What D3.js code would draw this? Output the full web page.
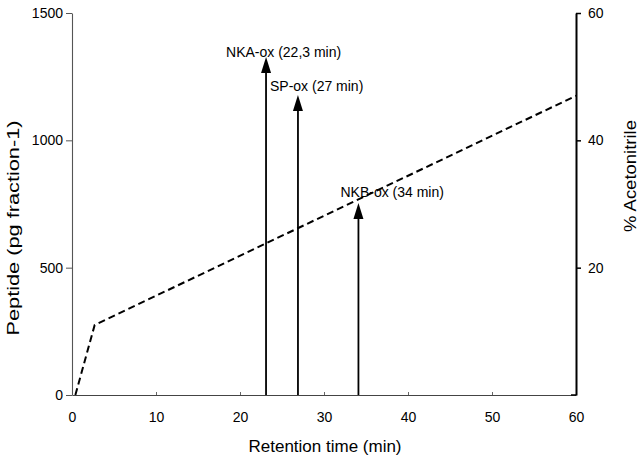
<!DOCTYPE html>
<html>
<head>
<meta charset="utf-8">
<script src="https://cdn.jsdelivr.net/npm/d3@7"></script>
<style>
  body { margin: 0; background: #fff; }
  svg text { font-family: "Liberation Sans", Arial, sans-serif; fill: #000; }
</style>
</head>
<body>
<svg id="chart" width="640" height="459"></svg>
<script>
// retention time (min) vs % acetonitrile gradient
var gradientTime = [0.4, 2.7, 60];
var gradientPct = [0, 11, 47];

// peptide peaks
var peakNames = ["NKA-ox (22,3 min)", "SP-ox (27 min)", "NKB-ox (34 min)"];
var peakTime = [23.1, 26.9, 34.1];
var peakAmount = [1327, 1178, 754];

var xTicks = [0, 10, 20, 30, 40, 50, 60];
var yTicks = [0, 500, 1000, 1500];
var y2Ticks = [20, 40, 60];

var svg = d3.select("#chart");

var x = d3.scaleLinear().domain([0, 60]).range([72, 576]);
var y = d3.scaleLinear().domain([0, 1500]).range([395, 13]);
var y2 = d3.scaleLinear().domain([0, 60]).range([395, 13]);

// x axis (small inward ticks)
var gx = svg.append("g")
    .attr("transform", "translate(0," + y(0) + ")")
    .call(d3.axisBottom(x).tickValues(xTicks).tickSize(-3).tickPadding(17).tickSizeOuter(0));
gx.select(".domain").attr("stroke", "#444").attr("stroke-width", 1.2);
gx.selectAll(".tick line").attr("stroke", "#666");
gx.selectAll("text").attr("font-size", 14);

// left axis
var gy = svg.append("g")
    .attr("transform", "translate(" + x(0) + ",0)")
    .call(d3.axisLeft(y).tickValues(yTicks).tickFormat(d3.format("d")).tickSize(6).tickPadding(3).tickSizeOuter(0));
gy.select(".domain").attr("stroke", "#555").attr("stroke-width", 1.1);
gy.selectAll(".tick line").attr("stroke", "#555");
gy.selectAll("text").attr("font-size", 14);

// right axis
var gy2 = svg.append("g")
    .attr("transform", "translate(" + x(60) + ",0)")
    .call(d3.axisRight(y2).tickValues(y2Ticks).tickSize(5).tickPadding(7).tickSizeOuter(0));
gy2.select(".domain").attr("stroke", "#000").attr("stroke-width", 2);
gy2.selectAll(".tick line").attr("stroke", "#000").attr("stroke-width", 1.5);
gy2.selectAll("text").attr("font-size", 14);
// bottom corner of right axis
svg.append("line")
    .attr("x1", x(60) - 5).attr("x2", x(60))
    .attr("y1", y2(0)).attr("y2", y2(0))
    .attr("stroke", "#000").attr("stroke-width", 1.5);

// gradient line
var grad = gradientTime.map(function(t, i) { return [t, gradientPct[i]]; });
svg.append("path")
    .datum(grad)
    .attr("fill", "none")
    .attr("stroke", "#000")
    .attr("stroke-width", 2)
    .attr("stroke-dasharray", "7,4")
    .attr("d", d3.line().x(function(d) { return x(d[0]); }).y(function(d) { return y2(d[1]); }));

// arrows
var labelDx = [-40, -28, -18];
var labelDy = [0, -4, -6];
peakTime.forEach(function(t, i) {
    var px = x(t), top = y(peakAmount[i]);
    svg.append("line")
        .attr("x1", px).attr("x2", px)
        .attr("y1", y(0)).attr("y2", top + 10)
        .attr("stroke", "#000").attr("stroke-width", 1.8);
    svg.append("path")
        .attr("d", "M" + px + "," + top + " L" + (px - 5) + "," + (top + 16) + " L" + (px + 5) + "," + (top + 16) + " Z")
        .attr("fill", "#000");
    svg.append("text")
        .attr("x", px + labelDx[i])
        .attr("y", top + labelDy[i])
        .attr("font-size", 14)
        .text(peakNames[i]);
});

// axis titles
svg.append("text")
    .attr("transform", "translate(19,228) rotate(-90)")
    .attr("text-anchor", "middle")
    .attr("font-size", 17)
    .attr("textLength", 215)
    .attr("lengthAdjust", "spacingAndGlyphs")
    .text("Peptide (pg fraction-1)");

svg.append("text")
    .attr("transform", "translate(636,176) rotate(-90)")
    .attr("text-anchor", "middle")
    .attr("font-size", 17)
    .attr("textLength", 112)
    .attr("lengthAdjust", "spacingAndGlyphs")
    .text("% Acetonitrile");

svg.append("text")
    .attr("x", 325)
    .attr("y", 452)
    .attr("text-anchor", "middle")
    .attr("font-size", 17)
    .text("Retention time (min)");
</script>
</body>
</html>
